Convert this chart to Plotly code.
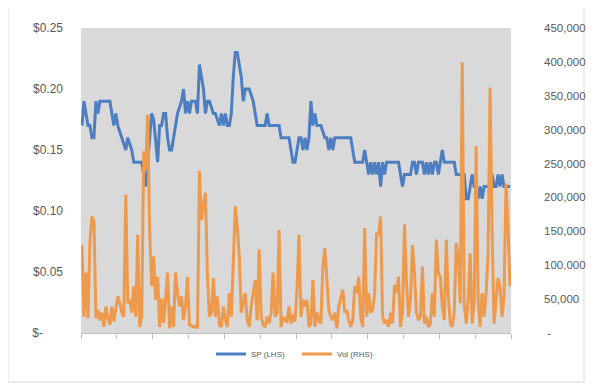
import plotly.graph_objects as go

# Share price (LHS), one value per trading day
sp_price = [
    0.17, 0.19, 0.18, 0.17, 0.17, 0.16, 0.16, 0.19, 0.18, 0.19,
    0.19, 0.19, 0.19, 0.19, 0.19, 0.18, 0.17, 0.18, 0.17, 0.165,
    0.16, 0.155, 0.15, 0.16, 0.155, 0.15, 0.14, 0.14, 0.14, 0.14,
    0.14, 0.13, 0.12, 0.14, 0.16, 0.18, 0.175, 0.16, 0.14, 0.17,
    0.17, 0.18, 0.18, 0.16, 0.15, 0.15, 0.16, 0.17, 0.18, 0.185,
    0.19, 0.20, 0.18, 0.19, 0.18, 0.19, 0.19, 0.19, 0.18, 0.22,
    0.21, 0.20, 0.18, 0.19, 0.19, 0.185, 0.18, 0.18, 0.175, 0.17,
    0.18, 0.17, 0.18, 0.17, 0.17, 0.18, 0.21, 0.23, 0.23, 0.22,
    0.21, 0.19, 0.20, 0.20, 0.20, 0.195, 0.19, 0.18, 0.17, 0.17,
    0.17, 0.17, 0.17, 0.18, 0.17, 0.17, 0.17, 0.17, 0.17, 0.17,
    0.16, 0.16, 0.16, 0.16, 0.16, 0.15, 0.14, 0.14, 0.15, 0.16,
    0.16, 0.15, 0.16, 0.15, 0.16, 0.19, 0.17, 0.18, 0.17, 0.17,
    0.17, 0.165, 0.16, 0.16, 0.15, 0.16, 0.15, 0.16, 0.16, 0.16,
    0.16, 0.16, 0.16, 0.16, 0.16, 0.16, 0.15, 0.14, 0.14, 0.14,
    0.14, 0.14, 0.15, 0.14, 0.13, 0.14, 0.13, 0.14, 0.13, 0.14,
    0.12, 0.14, 0.13, 0.14, 0.14, 0.14, 0.14, 0.14, 0.14, 0.14,
    0.13, 0.12, 0.13, 0.13, 0.13, 0.13, 0.14, 0.14, 0.13, 0.14,
    0.14, 0.14, 0.13, 0.14, 0.13, 0.14, 0.13, 0.14, 0.14, 0.13,
    0.14, 0.15, 0.14, 0.14, 0.14, 0.14, 0.14, 0.14, 0.13, 0.13,
    0.13, 0.13, 0.13, 0.11, 0.11, 0.12, 0.13, 0.12, 0.12, 0.11,
    0.12, 0.11, 0.12, 0.12, 0.12, 0.12, 0.13, 0.12, 0.12, 0.13,
    0.12, 0.13, 0.12, 0.12, 0.12, 0.12,
]

# Daily volume (RHS)
volume = [
    130000, 24000, 89000, 22000, 135000, 172000, 165000, 22000, 34000, 19000,
    30000, 9000, 39000, 22000, 12000, 39000, 17000, 39000, 54000, 44000,
    30000, 24000, 204000, 44000, 49000, 30000, 69000, 24000, 145000, 9000,
    24000, 268000, 240000, 322000, 150000, 69000, 113000, 49000, 83000, 9000,
    51000, 15000, 49000, 89000, 7000, 39000, 9000, 89000, 59000, 39000,
    54000, 19000, 40000, 83000, 12000, 10000, 9000, 10000, 7000, 239000,
    167000, 187000, 207000, 86000, 24000, 30000, 81000, 24000, 54000, 12000,
    9000, 39000, 19000, 9000, 59000, 24000, 120000, 187000, 157000, 113000,
    30000, 45000, 59000, 19000, 9000, 40000, 59000, 78000, 19000, 123000,
    24000, 12000, 9000, 24000, 14000, 30000, 89000, 24000, 30000, 152000,
    9000, 24000, 19000, 17000, 39000, 14000, 27000, 17000, 64000, 145000,
    24000, 49000, 39000, 49000, 9000, 14000, 78000, 9000, 30000, 19000,
    14000, 98000, 125000, 78000, 34000, 24000, 19000, 30000, 7000, 39000,
    54000, 64000, 30000, 34000, 19000, 9000, 19000, 69000, 59000, 83000,
    24000, 9000, 155000, 24000, 59000, 30000, 34000, 59000, 148000, 145000,
    172000, 24000, 14000, 19000, 9000, 30000, 14000, 71000, 59000, 83000,
    9000, 30000, 160000, 74000, 24000, 49000, 130000, 89000, 30000, 19000,
    24000, 98000, 14000, 24000, 9000, 14000, 59000, 24000, 138000, 89000,
    83000, 39000, 19000, 138000, 54000, 14000, 9000, 30000, 133000, 111000,
    44000, 399000, 44000, 14000, 49000, 118000, 14000, 44000, 276000, 49000,
    9000, 59000, 24000, 59000, 118000, 362000, 152000, 14000, 49000, 81000,
    69000, 24000, 54000, 221000, 157000, 69000,
]

left_tick_values = [0, 0.05, 0.10, 0.15, 0.20, 0.25]
left_tick_labels = ["$-" + "\u00a0" * 6, "$0.05", "$0.10", "$0.15", "$0.20", "$0.25"]
right_tick_values = [0, 50000, 100000, 150000, 200000, 250000, 300000, 350000, 400000, 450000]
right_tick_labels = ["\u00a0-", "50,000", "100,000", "150,000", "200,000", "250,000",
                     "300,000", "350,000", "400,000", "450,000"]

days = list(range(len(sp_price)))
tick_every = 18
x_ticks = [k - 0.5 for k in range(0, len(days) + 1, tick_every)]

BLUE = "#4E7EC2"
ORANGE = "#EE9A4D"
FONT = "Liberation Sans"
TXT = "#595959"

fig = go.Figure()
fig.add_trace(go.Scatter(x=days, y=sp_price, name="SP (LHS)", mode="lines",
                         line=dict(color=BLUE, width=3), yaxis="y"))
fig.add_trace(go.Scatter(x=days, y=volume, name="Vol (RHS)", mode="lines",
                         line=dict(color=ORANGE, width=3), yaxis="y2"))

# page body adds an 8px offset; figure is sized to fit the remaining window
OX, OY = 8, 8
W, H = 586, 384
L, T = 81 - OX, 28 - OY
R = W - (511 - OX)
B = H - (333 - OY)
pw, ph = W - L - R, H - T - B

def px_x(px):
    return (px - OX - L) / pw

def px_y(py):
    return (H - B - (py - OY)) / ph

fig.update_layout(
    width=W, height=H,
    margin=dict(l=L, r=R, t=T, b=B, autoexpand=False),
    paper_bgcolor="white",
    plot_bgcolor="#D9D9D9",
    font=dict(family=FONT, size=12, color=TXT),
    showlegend=True,
    legend=dict(orientation="h", x=px_x(297), y=px_y(354), xanchor="center", yanchor="middle",
                font=dict(size=8, color=TXT), bgcolor="rgba(0,0,0,0)",
                itemwidth=30, tracegroupgap=0, entrywidth=41),
    xaxis=dict(range=[-0.5, len(days) - 0.5], tickvals=x_ticks, showticklabels=False,
               ticks="outside", ticklen=5, tickcolor="#BFBFBF", showline=True,
               linecolor="#BFBFBF", linewidth=1, showgrid=False, zeroline=False,
               automargin=False),
    yaxis=dict(range=[0, 0.25], tickvals=left_tick_values, ticktext=left_tick_labels,
               showgrid=False, zeroline=False, showline=False, ticks="",
               ticklabelstandoff=17, tickfont=dict(size=12, color=TXT), automargin=False),
    yaxis2=dict(range=[0, 450000], tickvals=right_tick_values, ticktext=right_tick_labels,
                overlaying="y", side="right", showgrid=False, zeroline=False,
                showline=False, ticks="", ticklabelstandoff=32,
                tickfont=dict(size=11.5, color=TXT), automargin=False),
    shapes=[dict(type="rect", xref="paper", yref="paper",
                 x0=px_x(8), x1=px_x(584), y0=px_y(382), y1=px_y(7),
                 line=dict(color="#D9D9D9", width=1), fillcolor="rgba(0,0,0,0)",
                 layer="below")],
)

fig.write_html("out.html")
